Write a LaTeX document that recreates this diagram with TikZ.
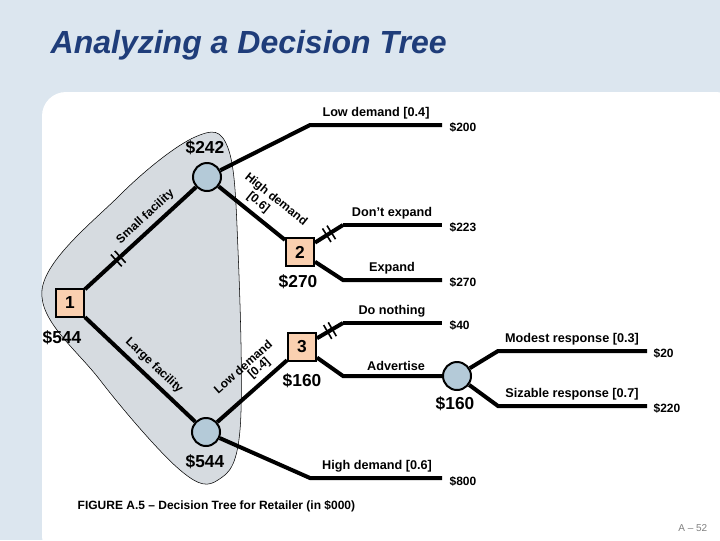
\documentclass[tikz,border=0pt]{standalone}
\usepackage{fontspec}
\setmainfont{Liberation Sans}
\usetikzlibrary{decorations.markings}
\definecolor{bgc}{HTML}{DCE6EF}
\definecolor{titc}{HTML}{1F3D7A}
\definecolor{sqc}{HTML}{FAD0B0}
\definecolor{cic}{HTML}{B4CAD8}
\definecolor{blob}{HTML}{D6DBE0}
\tikzset{
 br/.style={line width=3pt},
 sq/.style={draw,line width=1.5pt,fill=sqc,minimum size=21pt,inner sep=0pt,font=\bfseries\fontsize{13}{13}\selectfont},
 ci/.style={draw,line width=1.5pt,fill=cic,circle,minimum size=21pt,inner sep=0pt},
 lab/.style={font=\bfseries\fontsize{9.5}{10}\selectfont,inner sep=1pt},
 slab/.style={font=\bfseries\fontsize{9}{9}\selectfont,inner sep=0.5pt},
 val/.style={font=\bfseries\fontsize{9}{10}\selectfont,anchor=west,inner sep=1pt},
 big/.style={font=\bfseries\fontsize{13}{13}\selectfont,inner sep=1pt},
 ticked/.style={postaction={decorate,decoration={markings,mark=at position #1 with {\draw[line width=1.2pt] (-2pt,-6pt)--(-2pt,6pt) (2pt,-6pt)--(2pt,6pt);}}}}
}
\begin{document}
\begin{tikzpicture}[x=0.75pt,y=-0.75pt]
\useasboundingbox (0,0) rectangle (720,540);
\fill[bgc] (0,0) rectangle (720,540);
\fill[white,rounded corners=18pt] (42,92) rectangle (740,560);
\node[anchor=west,text=titc,font=\bfseries\itshape\fontsize{24}{24}\selectfont] (title) at (46,45) {Analyzing a Decision Tree};
\fill[blob,draw=black,line width=0.4pt] plot[smooth cycle,tension=0.6] coordinates {(42,290) (120,195) (195,137) (228,148) (238,250) (240,430) (218,480) (180,470) (100,380)};
% nodes
\node[sq] (n1) at (70,303) {1};
\node[ci] (c1) at (207,177) {};
\node[ci] (c2) at (206,432) {};
\node[sq] (n2) at (300,252) {2};
\node[sq] (n3) at (302,347) {3};
\node[ci] (c3) at (457,376) {};
\coordinate (b1) at (310,125); \coordinate (e1) at (442,125);
\coordinate (b2) at (343,225); \coordinate (e2) at (442,225);
\coordinate (b3) at (343,280); \coordinate (e3) at (442,280);
\coordinate (b4) at (343,323); \coordinate (e4) at (442,323);
\coordinate (b5) at (343,376);
\coordinate (b6) at (310,478); \coordinate (e6) at (442,478);
\coordinate (b7) at (498,351); \coordinate (e7) at (647,351);
\coordinate (b8) at (498,406); \coordinate (e8) at (647,406);
% branches
\draw[br,ticked=0.3] (n1) -- node[slab,sloped,above=3pt,pos=0.62]{Small facility} (c1);
\draw[br] (n1) -- node[slab,sloped,above=3pt,pos=0.55]{Large facility} (c2);
\draw[br] (c1) -- (b1) -- (e1);
\draw[br] (c1) -- node[slab,sloped,above=13pt,pos=0.62]{High demand} node[slab,sloped,above=3pt,pos=0.48]{[0.6]} (n2);
\draw[br] (c2) -- node[slab,sloped,above=13pt,pos=0.6]{Low demand} node[slab,sloped,above=3pt,pos=0.72]{[0.4]} (n3);
\draw[br] (c2) -- (b6) -- (e6);
\draw[br,ticked=0.5] (n2) -- (b2);
\draw[br] (b2) -- (e2);
\draw[br] (n2) -- (b3) -- (e3);
\draw[br,ticked=0.5] (n3) -- (b4);
\draw[br] (b4) -- (e4);
\draw[br] (n3) -- (b5) -- (c3);
\draw[br] (c3) -- (b7) -- (e7);
\draw[br] (c3) -- (b8) -- (e8);
% labels
\node[lab,anchor=south] (l1) at (376,121) {Low demand [0.4]};
\node[lab,anchor=south] (l2) at (392,221) {Don’t expand};
\node[lab,anchor=south] (l3) at (392,276) {Expand};
\node[lab,anchor=south] (l4) at (392,319) {Do nothing};
\node[lab,anchor=south] (l5) at (396,372) {Advertise};
\node[lab,anchor=south] (l6) at (377,474) {High demand [0.6]};
\node[lab,anchor=south] (l7) at (572,347) {Modest response [0.3]};
\node[lab,anchor=south] (l8) at (572,402) {Sizable response [0.7]};
\node[val] (v1) at (448,127) {\$200};
\node[val] (v2) at (448,227) {\$223};
\node[val] (v3) at (448,282) {\$270};
\node[val] (v4) at (448,325) {\$40};
\node[val] (v6) at (448,481) {\$800};
\node[val] (v7) at (652,353) {\$20};
\node[val] (v8) at (652,408) {\$220};
\node[big] (m1) at (205,148) {\$242};
\node[big] (m2) at (298,282) {\$270};
\node[big] (m3) at (302,381) {\$160};
\node[big] (m4) at (62,338) {\$544};
\node[big] (m5) at (205,462) {\$544};
\node[big] (m6) at (455,404) {\$160};
\node[anchor=west,font=\bfseries\fontsize{9}{10}\selectfont] (cap) at (73,506) {FIGURE A.5 – Decision Tree for Retailer (in \$000)};
\node[anchor=east,text=gray,font=\fontsize{7.5}{8}\selectfont] (pg) at (712,528) {A – 52};
\end{tikzpicture}
\end{document}
